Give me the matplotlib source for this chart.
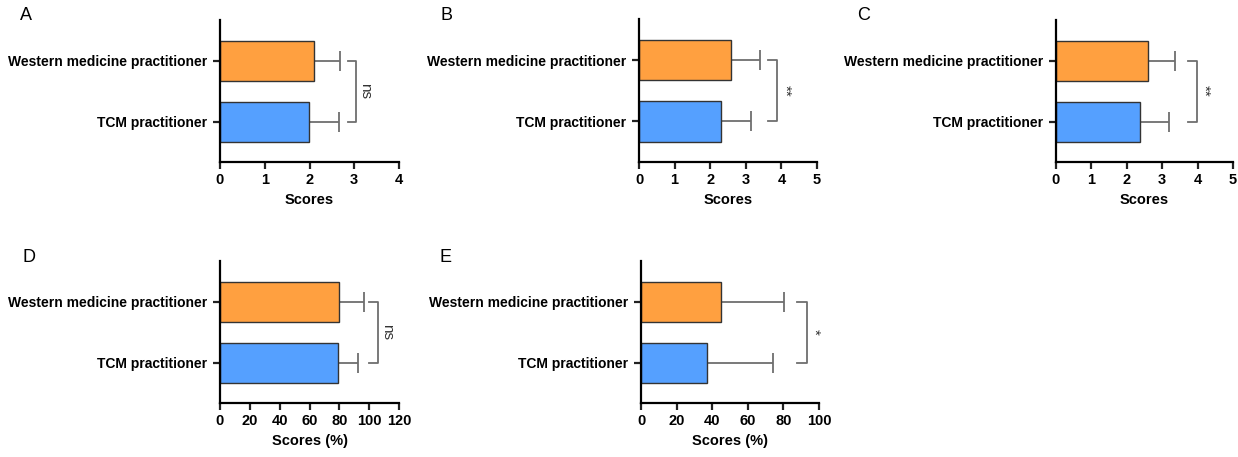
import matplotlib
matplotlib.use("Agg")
import matplotlib.pyplot as plt

plt.rcParams['font.family'] = ['Liberation Sans', 'DejaVu Sans']

groups = ["TCM practitioner", "Western medicine practitioner"]
panel_letters = ["A", "B", "C", "D", "E"]
means = {
    "A": [1.99, 2.09],
    "B": [2.29, 2.59],
    "C": [2.37, 2.59],
    "D": [78.9, 80.0],
    "E": [37.3, 45.0],
}
sds = {
    "A": [0.68, 0.60],
    "B": [0.86, 0.81],
    "C": [0.82, 0.77],
    "D": [13.8, 16.7],
    "E": [37.0, 35.3],
}
sig = {"A": "ns", "B": "**", "C": "**", "D": "ns", "E": "*"}
xmax = {"A": 4, "B": 5, "C": 5, "D": 120, "E": 100}
xstep = {"A": 1, "B": 1, "C": 1, "D": 20, "E": 20}
xlabels = {"A": "Scores", "B": "Scores", "C": "Scores", "D": "Scores (%)", "E": "Scores (%)"}
bracket_x = {"A": (2.85, 3.05), "B": (3.61, 3.89), "C": (3.72, 3.97), "D": (100, 106), "E": (87.7, 93)}

colors = ["#55A0FF", "#FFA040"]

W, H = 1238, 457
fig = plt.figure(figsize=(W / 100, H / 100), dpi=100)

# pixel boxes: left, right, top, bottom
boxes = {
    "A": (220, 399, 20, 162),
    "B": (639, 817, 19, 162),
    "C": (1056, 1233, 20, 162),
    "D": (220, 399, 261, 403),
    "E": (641, 819, 261, 403),
}
letter_pos = {"A": (20, 16), "B": (440, 16), "C": (857, 16), "D": (22, 257), "E": (439, 257)}

for p in panel_letters:
    l, r, t, b = boxes[p]
    ax = fig.add_axes([l / W, 1 - b / H, (r - l) / W, (b - t) / H])
    y = [0, 1]
    ax.barh(y, means[p], height=0.66, color=colors, edgecolor="#333333", linewidth=1.0, zorder=2)
    ax.errorbar(means[p], y, xerr=[[0, 0], sds[p]], fmt="none", ecolor="#6e6e6e",
                elinewidth=1.3, capsize=7, capthick=1.3, zorder=1)
    x0, x1 = bracket_x[p]
    ax.plot([x0, x1, x1, x0], [1.0, 1.0, 0.0, 0.0], color="#6e6e6e", lw=1.3, clip_on=False)
    if sig[p] == "ns":
        ax.text(x1 + (x1 - x0) * 0.2, 0.5, "ns", rotation=270, ha="left", va="center",
                fontsize=11, color="#333333")
    else:
        ax.text(x1 + (x1 - x0) * 0.1, 0.5, sig[p], rotation=270, ha="left", va="center",
                fontsize=11, color="#333333")
    ax.set_xlim(0, xmax[p])
    ax.set_ylim(-0.66, 1.67)
    ax.set_xticks(range(0, xmax[p] + 1, xstep[p]))
    ax.set_yticks(y)
    ax.set_yticklabels(groups, fontsize=10, fontweight="bold")
    for lab in ax.get_xticklabels():
        lab.set_fontweight("bold")
        lab.set_fontsize(10.5)
    ax.set_xlabel(xlabels[p], fontsize=10.5, fontweight="bold", labelpad=4)
    for s in ["top", "right"]:
        ax.spines[s].set_visible(False)
    for s in ["left", "bottom"]:
        ax.spines[s].set_linewidth(1.6)
    ax.tick_params(axis="both", width=1.6, length=5, color="#222222")
    ax.tick_params(axis="y", pad=4)
    ax.tick_params(axis="x", pad=3)
    lx, ly = letter_pos[p]
    fig.text(lx / W, 1 - ly / H, p, fontsize=13, ha="left", va="center")

fig.savefig("out.png", dpi=100)
